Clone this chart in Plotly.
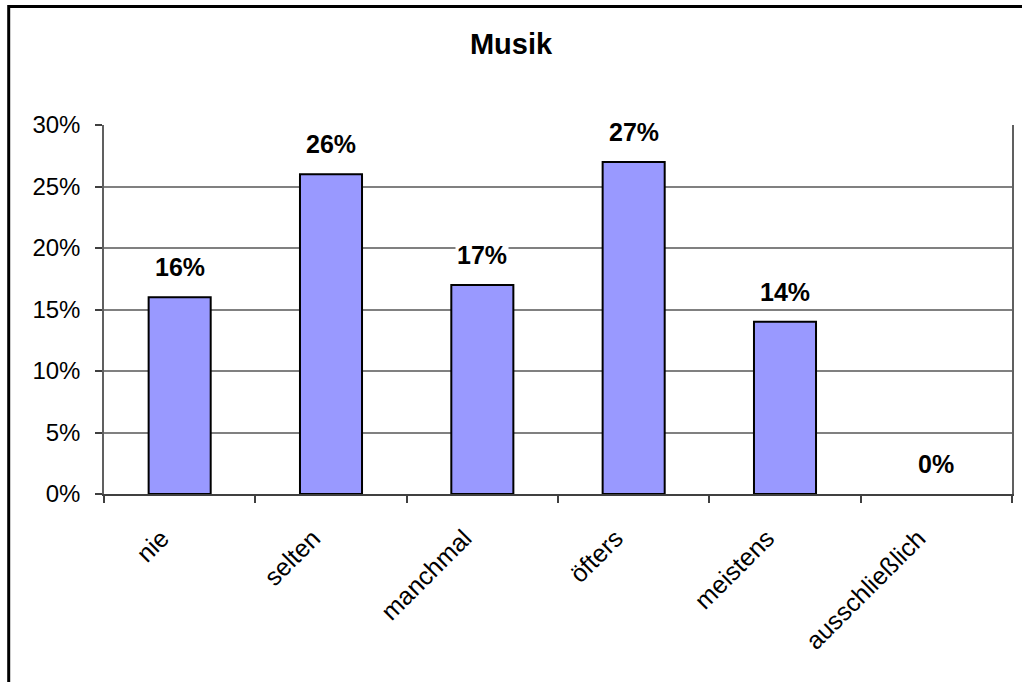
import plotly.graph_objects as go

categories = ["nie", "selten", "manchmal", "öfters", "meistens", "ausschließlich"]
values = [0.16, 0.26, 0.17, 0.27, 0.14, 0.0]
y_ticks = [0, 0.05, 0.10, 0.15, 0.20, 0.25, 0.30]
title_text = "Musik"

FONT = "Liberation Sans, Arial, sans-serif"

fig = go.Figure()
fig.add_trace(go.Bar(
    x=categories, y=values,
    marker=dict(color="#9999FF",
                line=dict(color="black", width=[2 if v > 0 else 0 for v in values])),
    width=0.41,
    hoverinfo="skip",
))

for c, v in zip(categories, values):
    fig.add_annotation(
        x=c, y=v, xref="x", yref="y",
        text="<b>%d%%</b>" % round(v * 100),
        showarrow=False, yanchor="middle", yshift=30,
        bgcolor="white", font=dict(family=FONT, size=25, color="black"),
    )

fig.update_layout(
    width=1022, height=682,
    margin=dict(l=104, r=8, t=125, b=188),
    paper_bgcolor="white", plot_bgcolor="white",
    showlegend=False,
    font=dict(family=FONT, size=24, color="black"),
    title=dict(text="<b>" + title_text + "</b>", x=0.5, xanchor="center",
               y=1 - 44 / 682, yanchor="middle",
               font=dict(family=FONT, size=29, color="black")),
)

fig.update_xaxes(
    tickangle=-45, tickson="boundaries", ticks="outside", ticklen=7,
    tickcolor="#404040", tickwidth=1.5,
    showline=True, linecolor="#404040", linewidth=1.5,
    showgrid=False, tickfont=dict(family=FONT, size=25),
    ticklabelstandoff=18, ticklabelshift=-18,
)
fig.update_yaxes(
    range=[0, 0.30], tickvals=y_ticks, tickformat=".0%",
    ticks="outside", ticklen=7, tickcolor="#404040", tickwidth=1.5,
    showline=True, linecolor="#606060", linewidth=1.5, mirror=True,
    showgrid=True, gridcolor="#808080", gridwidth=1.5,
    zeroline=False, ticklabelstandoff=10,
    tickfont=dict(family=FONT, size=24),
)

# outer chart border
fig.add_shape(type="rect", xref="paper", yref="paper",
              x0=(8.5 - 104) / 910, x1=1.03,
              y0=-0.7, y1=(494 - 6.5) / 369,
              line=dict(color="black", width=3), fillcolor="rgba(0,0,0,0)")

fig.write_html("out.html", config={"displayModeBar": False},
               post_script="document.body.style.margin='0';document.body.style.overflow='hidden';")
